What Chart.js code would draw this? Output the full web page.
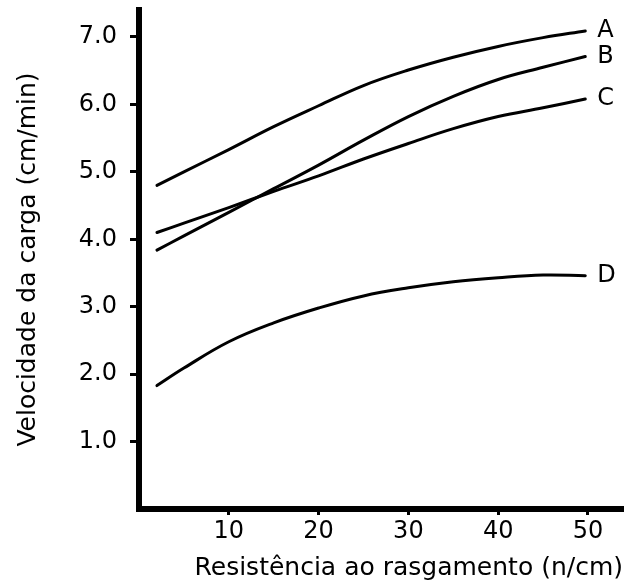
<!DOCTYPE html>
<html>
<head>
<meta charset="utf-8">
<script src="https://cdn.jsdelivr.net/npm/chart.js@4/dist/chart.umd.min.js"></script>
<style>
  html, body { margin: 0; padding: 0; background: #fff; }
  #grafico { display: block; }
</style>
</head>
<body>
<canvas id="grafico" width="634" height="584"></canvas>
<script>
/* dados */
const resistencia = [2, 5, 10, 15, 20, 25, 30, 35, 40, 45, 49.7];
const curvaA = [4.80, 5.00, 5.33, 5.67, 5.98, 6.28, 6.51, 6.70, 6.86, 6.99, 7.09];
const curvaB = [3.84, 4.05, 4.40, 4.75, 5.10, 5.47, 5.82, 6.12, 6.37, 6.55, 6.71];
const curvaC = [4.10, 4.24, 4.47, 4.71, 4.94, 5.19, 5.42, 5.64, 5.82, 5.95, 6.08];
const curvaD = [1.83, 2.09, 2.48, 2.76, 2.98, 3.16, 3.28, 3.37, 3.43, 3.47, 3.46];
const nomes = ['A', 'B', 'C', 'D'];
const ticksX = [10, 20, 30, 40, 50];
const ticksY = [1, 2, 3, 4, 5, 6, 7];

const fonte = 'DejaVu Sans';

let pontos = (ys) => resistencia.map((x, i) => ({ x: x, y: ys[i] }));

let serie = (nome, ys) => ({
    label: nome,
    data: pontos(ys),
    borderColor: '#000',
    borderWidth: 3,
    borderCapStyle: 'round',
    pointRadius: 0,
    fill: false,
    tension: 0.4
});

/* letras no fim de cada curva */
const rotulos = {
    id: 'rotulos',
    afterDatasetsDraw(chart) {
        const ctx = chart.ctx;
        ctx.save();
        ctx.fillStyle = '#000';
        ctx.font = '24px "' + fonte + '"';
        ctx.textBaseline = 'middle';
        ctx.textAlign = 'left';
        chart.data.datasets.forEach((ds, i) => {
            const meta = chart.getDatasetMeta(i);
            const ultimo = meta.data[meta.data.length - 1];
            ctx.fillText(ds.label, ultimo.x + 12, ultimo.y);
        });
        ctx.restore();
    }
};

const ctx = document.getElementById('grafico');

new Chart(ctx, {
    type: 'line',
    data: {
        datasets: [
            serie(nomes[0], curvaA),
            serie(nomes[1], curvaB),
            serie(nomes[2], curvaC),
            serie(nomes[3], curvaD)
        ]
    },
    options: {
        responsive: false,
        animation: false,
        devicePixelRatio: 1,
        layout: { padding: { top: 10, right: 11, left: 0, bottom: 0 } },
        plugins: {
            legend: { display: false },
            tooltip: { enabled: false }
        },
        scales: {
            x: {
                type: 'linear',
                min: 0,
                max: 53.9,
                afterFit: (s) => { s.height = 75; s.paddingLeft = 0; s.paddingRight = 0; },
                afterBuildTicks: (s) => { s.ticks = ticksX.map(v => ({ value: v })); },
                border: { display: true, color: '#000', width: 6 },
                grid: {
                    display: true,
                    drawOnChartArea: false,
                    drawTicks: true,
                    tickLength: 6,
                    tickWidth: 3,
                    tickColor: '#000'
                },
                ticks: {
                    color: '#000',
                    padding: 2,
                    maxRotation: 0,
                    font: { family: fonte, size: 24 }
                },
                title: {
                    display: true,
                    text: 'Resistência ao rasgamento (n/cm)',
                    color: '#000',
                    align: 'end',
                    padding: { top: 0, bottom: 1 },
                    font: { family: fonte, size: 25 }
                }
            },
            y: {
                type: 'linear',
                min: 0,
                max: 7.4,
                afterFit: (s) => { s.width = 139; s.paddingTop = 0; s.paddingBottom = 0; },
                afterBuildTicks: (s) => { s.ticks = ticksY.map(v => ({ value: v })); },
                border: { display: true, color: '#000', width: 6 },
                grid: {
                    display: true,
                    drawOnChartArea: false,
                    drawTicks: true,
                    tickLength: 9,
                    tickWidth: 3,
                    tickColor: '#000'
                },
                ticks: {
                    color: '#000',
                    padding: 13,
                    font: { family: fonte, size: 24 },
                    callback: (v) => v.toFixed(1)
                },
                title: {
                    display: true,
                    text: 'Velocidade da carga (cm/min)',
                    color: '#000',
                    padding: { top: 13, bottom: 0 },
                    font: { family: fonte, size: 25 }
                }
            }
        }
    },
    plugins: [rotulos]
});
</script>
</body>
</html>
